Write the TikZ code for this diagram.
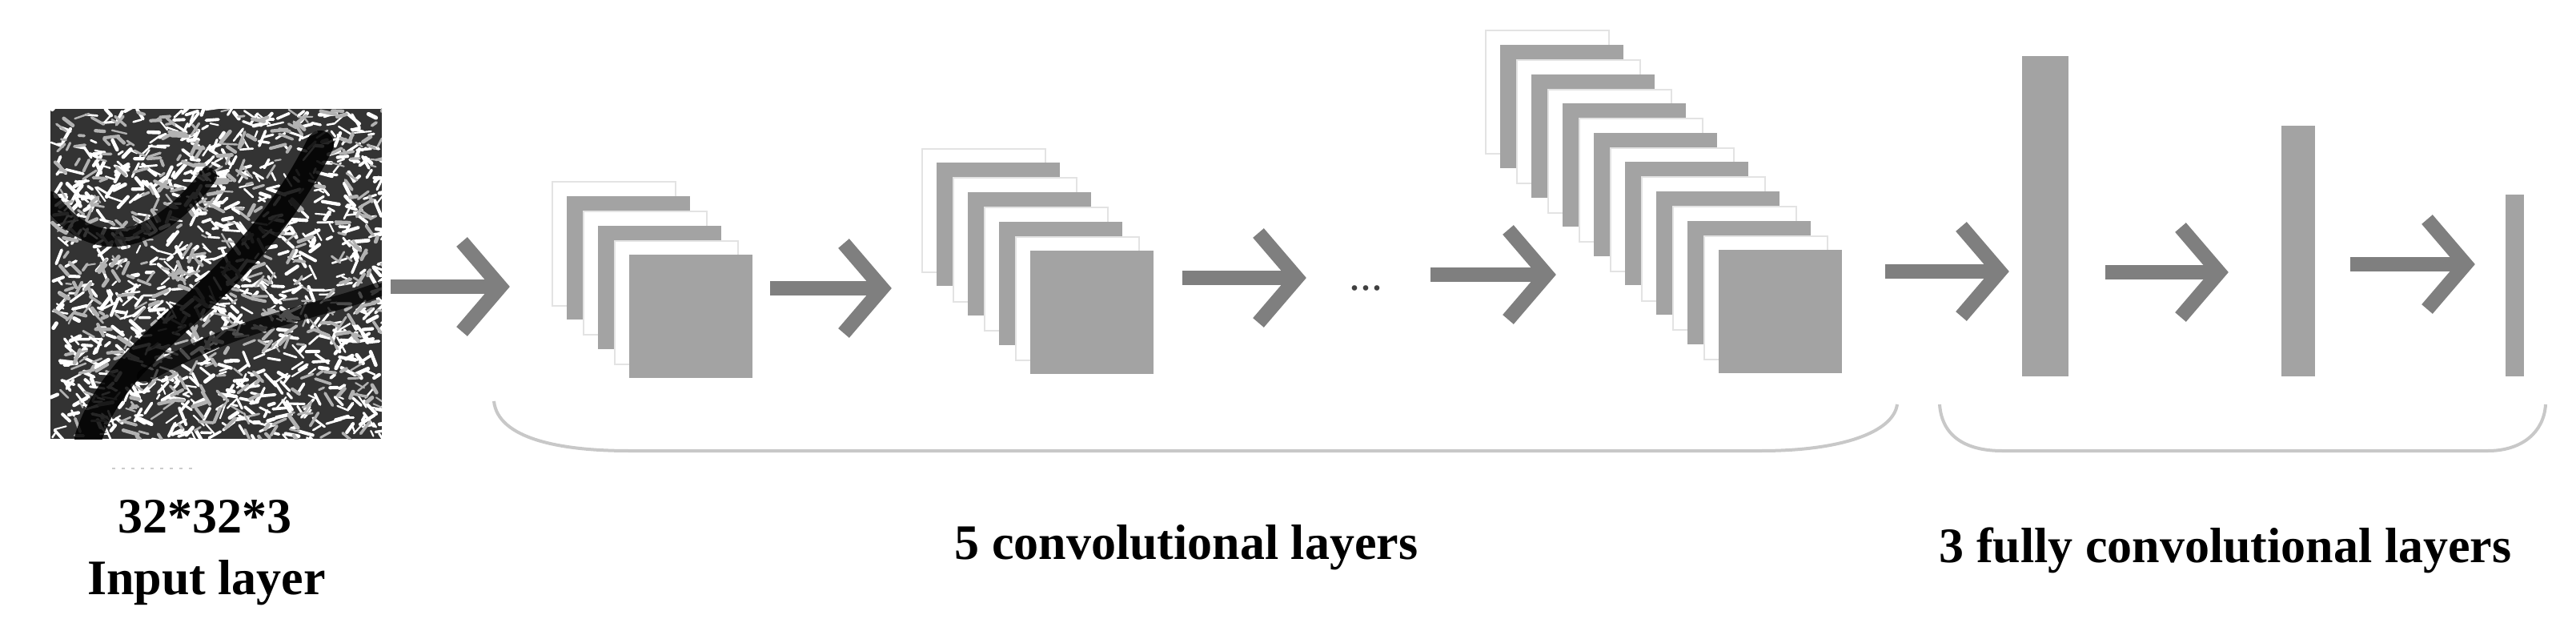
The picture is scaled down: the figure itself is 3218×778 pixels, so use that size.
\documentclass[tikz,border=0pt]{standalone}
\usepackage{fontspec}
\setmainfont{Liberation Serif}
\usetikzlibrary{calc}
\definecolor{cardgray}{HTML}{A3A3A3}
\definecolor{arrgray}{HTML}{7F7F7F}
\definecolor{bracegray}{HTML}{C8C8C8}
\tikzset{
  gcard/.style={fill=cardgray, draw=none, minimum width=154pt, minimum height=154pt, anchor=north west, inner sep=0pt},
  wcard/.style={fill=white, draw=gray!22, line width=2pt, minimum width=154pt, minimum height=154pt, anchor=north west, inner sep=0pt},
  shaft/.style={draw=arrgray, line width=18pt},
  chev/.style={draw=arrgray, line width=18pt, line cap=butt, line join=miter},
  brace/.style={draw=bracegray, line width=4pt},
  lbl/.style={font=\fontsize{62}{70}\selectfont\bfseries, anchor=base, inner sep=0pt},
  fcbar/.style={fill=cardgray, draw=none, inner sep=0pt}
}
\newcommand{\netarrow}[4]{% name, startx, tipx, y
  \coordinate (#1s) at (#2,#4);
  \coordinate (#1t) at (#3,#4);
  \draw[shaft] (#1s) -- ($(#1t)+(-12,0)$);
  \draw[chev] ($(#1t)+(-58,-56)$) -- ($(#1t)+(-10,0)$) -- ($(#1t)+(-58,56)$);
}
\newcommand{\cardstack}[4]{% name, frontx, fronty, count
  \foreach \k in {#4,...,1}{
    \pgfmathtruncatemacro{\kk}{\k-1}
    \pgfmathtruncatemacro{\cpar}{mod(\kk,2)}
    \ifnum\cpar=0
      \node[gcard] (#1-\kk) at ({#2-19.5*\kk},{#3-18.3*\kk}) {};
    \else
      \node[wcard] (#1-\kk) at ({#2-19.5*\kk},{#3-18.3*\kk}) {};
    \fi
  }
}
\begin{document}
\begin{tikzpicture}[x=1pt,y=-1pt]
\useasboundingbox (0,0) rectangle (3218,778);
% input image
\node[inner sep=0pt, minimum width=414pt, minimum height=412pt, anchor=north west] (img) at (63,136) {};
\begin{scope}
  \clip (63,136) rectangle (477,548);
  \fill[black!80] (63,136) rectangle (477,548);
  \pgfmathsetseed{11}
  \foreach \i in {1,...,900}{
    \pgfmathsetmacro{\px}{63+414*rnd}
    \pgfmathsetmacro{\py}{136+412*rnd}
    \pgfmathsetmacro{\ang}{-70+140*rnd}
    \pgfmathsetmacro{\len}{6+16*rnd}
    \pgfmathsetmacro{\lw}{2+3*rnd}
    \draw[white, line width=\lw pt, line cap=round] (\px,\py) -- ++(\ang:\len);
  }
  \foreach \i in {1,...,500}{
    \pgfmathsetmacro{\px}{63+414*rnd}
    \pgfmathsetmacro{\py}{136+412*rnd}
    \pgfmathsetmacro{\ang}{-70+140*rnd}
    \pgfmathsetmacro{\len}{6+14*rnd}
    \pgfmathsetmacro{\lw}{2+3*rnd}
    \draw[gray!60, line width=\lw pt, line cap=round] (\px,\py) -- ++(\ang:\len);
  }
  \draw[black, line width=34pt, opacity=0.85, line cap=round] (110,548) .. controls (150,420) and (300,380) .. (400,180);
  \draw[black, line width=22pt, opacity=0.8, line cap=round] (63,250) .. controls (120,330) and (200,300) .. (260,220);
  \draw[black, line width=18pt, opacity=0.7, line cap=round] (180,470) .. controls (300,400) and (400,390) .. (477,360);
\end{scope}
\draw[gray!40, line width=2pt, dash pattern=on 4pt off 8pt] (140,585) -- (240,585);
% labels
\node[lbl] (dim) at (256,665) {32*32*3};
\node[lbl] (inl) at (258,742) {Input layer};
\node[lbl] (conv) at (1482,698) {5 convolutional layers};
\node[lbl] (fc) at (2780,702) {3 fully convolutional layers};
% stacks
\cardstack{s1}{786}{318}{6}
\cardstack{s2}{1287}{313}{8}
\cardstack{s3}{2147}{312}{16}
% dots
\node[font=\fontsize{56}{56}\selectfont, inner sep=0pt, text=black!75, anchor=base] (dots) at (1706,362) {...};
% fc bars
\node[fcbar, anchor=north west, minimum width=58pt, minimum height=400pt] (fc1) at (2526,70) {};
\node[fcbar, anchor=north west, minimum width=42pt, minimum height=313pt] (fc2) at (2850,157) {};
\node[fcbar, anchor=north west, minimum width=23pt, minimum height=227pt] (fc3) at (3130,243) {};
% arrows
\netarrow{a1}{488}{635}{358}
\netarrow{a2}{962}{1112}{360}
\netarrow{a3}{1477}{1630}{347}
\netarrow{a4}{1787}{1942}{343}
\netarrow{a5}{2355}{2508}{339}
\netarrow{a6}{2630}{2782}{340}
\netarrow{a7}{2936}{3090}{330}
% braces
\coordinate (b1l) at (617,501);
\coordinate (b1r) at (2370,505);
\coordinate (b2l) at (2423,505);
\coordinate (b2r) at (3180,505);
\draw[brace] (b1l) .. controls (622,548) and (700,563) .. (786,563) -- (2200,563) .. controls (2300,563) and (2365,540) .. (b1r);
\draw[brace] (b2l) .. controls (2426,548) and (2460,563) .. (2501,563) -- (3108,563) .. controls (3150,563) and (3178,540) .. (b2r);
\end{tikzpicture}
\end{document}
